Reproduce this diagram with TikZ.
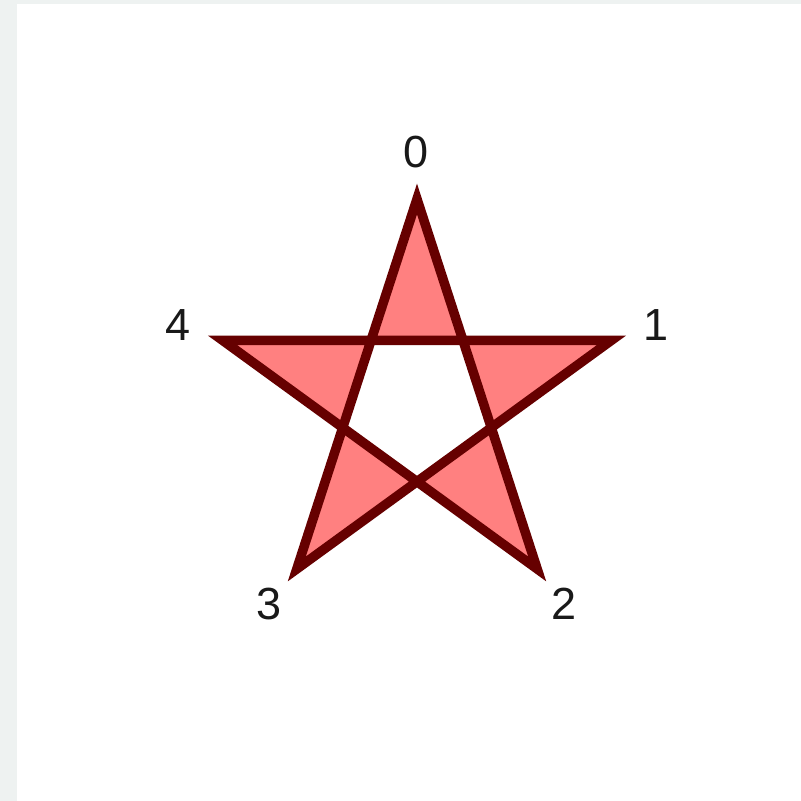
\documentclass[tikz,border=0pt]{standalone}
\usepackage{fontspec}
\setmainfont{Liberation Sans}
\usetikzlibrary{calc}
\definecolor{bggray}{RGB}{238,242,241}
\definecolor{starfill}{RGB}{255,128,128}
\definecolor{starline}{RGB}{102,0,0}
\begin{document}
\begin{tikzpicture}[x=1pt,y=-1pt,
  lab/.style={inner sep=0pt,anchor=center,font=\fontsize{45}{54}\selectfont,text=black!90},
  starstyle/.style={fill=starfill,draw=starline,line width=9.5pt,line join=miter,even odd rule}]
\useasboundingbox (0,0) rectangle (801,801);
\fill[bggray] (0,0) rectangle (801,801);
\fill[white] (17,4) rectangle (801,801);
\def\R{204.5}
\coordinate (c) at (417,403.5);
\coordinate (v0) at ($(c)+(0,-\R)$);
\coordinate (v1) at ($(c)+({\R*sin(72)},{-\R*cos(72)})$);
\coordinate (v2) at ($(c)+({\R*sin(144)},{-\R*cos(144)})$);
\coordinate (v3) at ($(c)+({\R*sin(216)},{-\R*cos(216)})$);
\coordinate (v4) at ($(c)+({\R*sin(288)},{-\R*cos(288)})$);
\draw[starstyle] (v0) -- (v2) -- (v4) -- (v1) -- (v3) -- cycle;
\node[lab] (l0) at (416,152) {0};
\node[lab] (l1) at (656,325) {1};
\node[lab] (l2) at (564,604) {2};
\node[lab] (l3) at (269,604) {3};
\node[lab] (l4) at (178,325) {4};
\end{tikzpicture}
\end{document}
